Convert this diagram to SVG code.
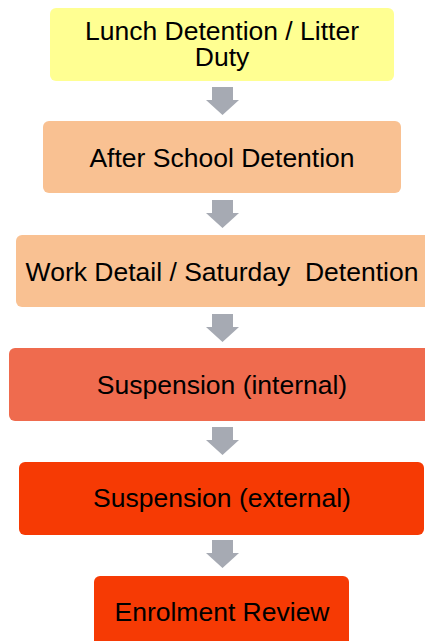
<svg xmlns="http://www.w3.org/2000/svg" width="425" height="641" viewBox="0 0 425 641">
  <style>
    .box { stroke: none; }
    .lbl { font-family: "Liberation Sans", Arial, sans-serif; font-size: 26.5px; fill: #000; text-anchor: middle; }
    .arrow { fill: #A6AAB3; }
  </style>
  <defs>
    <!-- block arrow pointing down, origin at top centre -->
    <path id="down" d="M-10,0 H11 V13 H17 L0.5,28 L-16,13 H-10 Z"/>
  </defs>
  <rect width="425" height="641" fill="#FFFFFF"/>

  <g id="connectors" class="arrow">
    <use href="#down" x="222" y="87"/>
    <use href="#down" x="222" y="200"/>
    <use href="#down" x="222" y="314"/>
    <use href="#down" x="222" y="427"/>
    <use href="#down" x="222" y="540"/>
  </g>

  <g id="lunch-detention">
    <rect class="box" x="50" y="8" width="344" height="73" rx="6" fill="#FFFF92"/>
    <text class="lbl" x="222" y="40">Lunch Detention / Litter</text>
    <text class="lbl" x="222" y="66">Duty</text>
  </g>

  <g id="after-school-detention">
    <rect class="box" x="43" y="121" width="358" height="72" rx="6" fill="#F9C192"/>
    <text class="lbl" x="222" y="166.5">After School Detention</text>
  </g>

  <g id="work-detail">
    <rect class="box" x="16" y="235" width="420" height="72" rx="6" fill="#F9C192"/>
    <text class="lbl" x="222" y="280.5" xml:space="preserve">Work Detail / Saturday  Detention</text>
  </g>

  <g id="suspension-internal">
    <rect class="box" x="9" y="348" width="430" height="73" rx="6" fill="#EF6B4E"/>
    <text class="lbl" x="222" y="393.5">Suspension (internal)</text>
  </g>

  <g id="suspension-external">
    <rect class="box" x="19" y="462" width="405" height="73" rx="6" fill="#F63A04"/>
    <text class="lbl" x="222" y="507">Suspension (external)</text>
  </g>

  <g id="enrolment-review">
    <rect class="box" x="94" y="576" width="255" height="80" rx="6" fill="#F63A04"/>
    <text class="lbl" x="222" y="620.5">Enrolment Review</text>
  </g>
</svg>
